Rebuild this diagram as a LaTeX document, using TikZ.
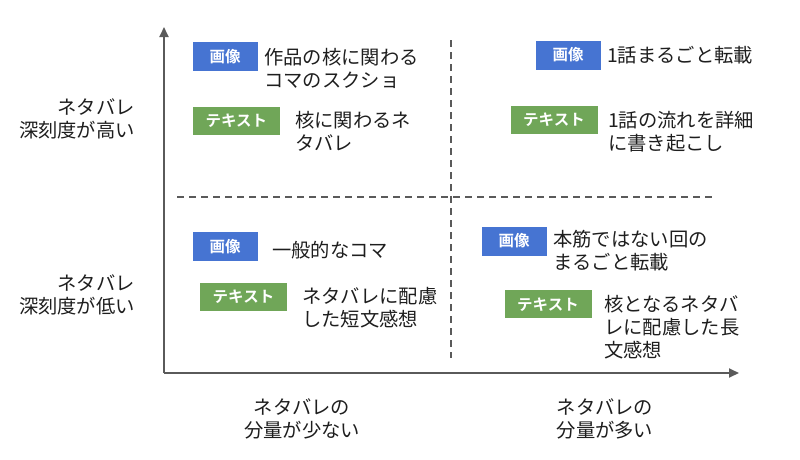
\documentclass[tikz,border=0pt]{standalone}
\usepackage{fontspec}
\setmainfont{Noto Sans CJK JP}[BoldFont={Noto Sans CJK JP Bold}]
\usetikzlibrary{arrows.meta}
\definecolor{imgblue}{RGB}{70,116,210}
\definecolor{txtgreen}{RGB}{112,166,88}
\definecolor{axisgray}{RGB}{90,90,90}
\definecolor{inkc}{RGB}{30,30,30}
\tikzset{
  lbl/.style={inner sep=0pt, text=inkc, font=\fontsize{19.3}{23}\selectfont},
  imgbadge/.style={fill=imgblue, text=white, inner sep=0pt, minimum width=65pt, minimum height=29pt, font=\fontsize{15.5}{17}\selectfont\bfseries},
  txtbadge/.style={fill=txtgreen, text=white, inner sep=0pt, minimum width=87pt, minimum height=28pt, font=\fontsize{15.5}{17}\selectfont\bfseries},
  axisline/.style={draw=axisgray, line width=1.8pt, -{Triangle[length=10pt,width=9pt]}},
  divider/.style={draw=axisgray, line width=1.4pt, dash pattern=on 7pt off 5pt}
}
\begin{document}
\begin{tikzpicture}[x=1pt,y=-1pt]
\useasboundingbox (0,0) rectangle (800,459);
% axes
\coordinate (O) at (164,373);
\coordinate (ytop) at (164,27);
\coordinate (xend) at (739,373);
\coordinate (hl) at (177,197);
\coordinate (hr) at (716,197);
\coordinate (vt) at (451,40);
\coordinate (vb) at (451,358);
\draw[divider] (hl) -- (hr);
\draw[divider] (vt) -- (vb);
\draw[axisline] (O) -- (ytop);
\draw[axisline] (O) -- (xend);
% top-left
\node[imgbadge] (tlimg) at (225.2,56.5) {画像};
\node[lbl, anchor=west, align=left] (tlimgt) at (264,68.5) {作品の核に関わる\\コマのスクショ};
\node[txtbadge] (tltxt) at (236.4,121) {テキスト};
\node[lbl, anchor=west, align=left] (tltxtt) at (295,131.5) {核に関わるネ\\タバレ};
% top-right
\node[imgbadge] (trimg) at (568,55) {画像};
\node[lbl, anchor=west, align=left] (trimgt) at (607,55) {1話まるごと転載};
\node[txtbadge] (trtxt) at (554,119.5) {テキスト};
\node[lbl, anchor=west, align=left] (trtxtt) at (608,132) {1話の流れを詳細\\に書き起こし};
% bottom-left
\node[imgbadge] (blimg) at (225.2,246.7) {画像};
\node[lbl, anchor=west, align=left] (blimgt) at (272,250) {一般的なコマ};
\node[txtbadge] (bltxt) at (243.5,296.7) {テキスト};
\node[lbl, anchor=west, align=left] (bltxtt) at (302,308) {ネタバレに配慮\\した短文感想};
% bottom-right
\node[imgbadge] (brimg) at (514,241) {画像};
\node[lbl, anchor=west, align=left] (brimgt) at (553,251) {本筋ではない回の\\まるごと転載};
\node[txtbadge] (brtxt) at (548,304.4) {テキスト};
\node[lbl, anchor=west, align=left] (brtxtt) at (604,327) {核となるネタバ\\レに配慮した長\\文感想};
% axis labels
\node[lbl, anchor=east, align=right] (yhigh) at (135,119) {ネタバレ\\深刻度が高い};
\node[lbl, anchor=east, align=right] (ylow) at (135,295) {ネタバレ\\深刻度が低い};
\node[lbl, align=center] (xlow) at (302,419) {ネタバレの\\分量が少ない};
\node[lbl, align=center] (xhigh) at (605,419) {ネタバレの\\分量が多い};
\end{tikzpicture}
\end{document}
